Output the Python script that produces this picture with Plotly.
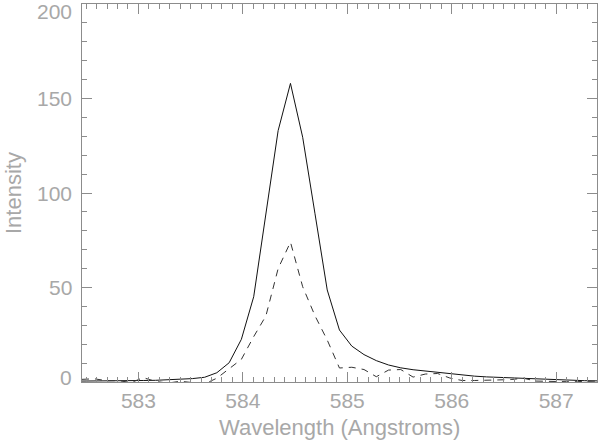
import plotly.graph_objects as go

# Wavelength grid (Angstroms)
wavelength = [582.460, 582.577, 582.695, 582.812, 582.930, 583.047, 583.164, 583.282,
              583.399, 583.517, 583.634, 583.751, 583.869, 583.986, 584.104, 584.221,
              584.338, 584.456, 584.573, 584.691, 584.808, 584.925, 585.043, 585.160,
              585.278, 585.395, 585.512, 585.630, 585.747, 585.865, 585.982, 586.099,
              586.217, 586.334, 586.452, 586.569, 586.686, 586.804, 586.921, 587.039,
              587.156, 587.273, 587.391]

# Solid profile
intensity_solid = [0.5, 0.5, 0.5, 0.6, 0.7, 0.8, 0.9, 1.1, 1.4, 1.8,
                   2.5, 4.9, 10.2, 22.6, 45.1, 90, 133, 158, 129.5, 89,
                   48.7, 27.5, 19, 14.5, 11.3, 9, 7.5, 6.5, 5.8, 5.0,
                   4.3, 3.6, 3.1, 2.7, 2.4, 2.1, 1.8, 1.5, 1.3, 1.1,
                   0.9, 0.7, 0.6]

# Dashed profile
intensity_dashed = [1.4, 1.7, 0.7, 0.7, -0.3, 2.3, 0.3, -0.6, 0.4, -0.5,
                    -1.0, 2.0, 7.0, 12.0, 24, 35, 60, 74, 50.4, 35,
                    22.2, 7.4, 7.8, 6.6, 2.8, 6.3, 6.6, 2.6, 4.2, 4.5,
                    2.1, 0.8, 0.8, 1.1, 1.1, 1.3, 2.0, 0.5, 0.3, 0.2,
                    0.1, 0.3, 0.5]

x_ticks = [583, 584, 585, 586, 587]
y_ticks = [0, 50, 100, 150, 200]
x_title = "Wavelength (Angstroms)"
y_title = "Intensity"

FONT = dict(family="Liberation Sans, Arial, sans-serif", size=21, color="#a8a8a8")
TITLE_FONT = dict(family="Liberation Sans, Arial, sans-serif", size=22, color="#a8a8a8")
AXIS_COLOR = "#8c8c8c"

fig = go.Figure()
fig.add_trace(go.Scatter(x=wavelength, y=intensity_solid, mode="lines",
                         line=dict(color="#111111", width=1), showlegend=False))
fig.add_trace(go.Scatter(x=wavelength, y=intensity_dashed, mode="lines",
                         line=dict(color="#333333", width=1, dash="7px,6px"),
                         showlegend=False))

axis_common = dict(showline=True, linecolor=AXIS_COLOR, linewidth=1, mirror="allticks",
                   ticks="inside", ticklen=10, tickcolor=AXIS_COLOR, tickwidth=1,
                   showgrid=False, zeroline=False, tickfont=FONT, automargin=False)

fig.update_xaxes(range=[wavelength[0], wavelength[-1]], tickvals=x_ticks,
                 ticktext=[str(v) for v in x_ticks],
                 minor=dict(ticks="inside", ticklen=5, dtick=0.1, tick0=583,
                            tickcolor=AXIS_COLOR, showgrid=False),
                 **axis_common)
fig.update_yaxes(range=[0, 200], tickvals=y_ticks, showticklabels=False,
                 minor=dict(ticks="inside", ticklen=5, dtick=10, tick0=0,
                            tickcolor=AXIS_COLOR, showgrid=False),
                 **axis_common)

annotations = []
for v in y_ticks:
    shift = -7 if v == max(y_ticks) else (4.5 if v == 0 else 0)
    annotations.append(dict(x=0, xref="paper", y=v, yref="y", text=str(v),
                            showarrow=False, xanchor="right", yanchor="middle",
                            xshift=-8, yshift=shift, font=FONT))
annotations.append(dict(x=0.5, xref="paper", y=0, yref="paper", text=x_title,
                        showarrow=False, xanchor="center", yanchor="middle",
                        yshift=-45, font=TITLE_FONT))
annotations.append(dict(x=0, xref="paper", y=0.5, yref="paper", text=y_title,
                        showarrow=False, xanchor="center", yanchor="middle",
                        textangle=-90, xshift=-69, font=TITLE_FONT))

fig.update_layout(width=600, height=447, margin=dict(l=82, r=3, t=4, b=65),
                  paper_bgcolor="white", plot_bgcolor="white",
                  annotations=annotations, font=FONT)

fig.write_html("out.html", config={"displayModeBar": False},
               post_script="document.body.style.margin='0';"
                           "document.body.style.overflow='hidden';")
